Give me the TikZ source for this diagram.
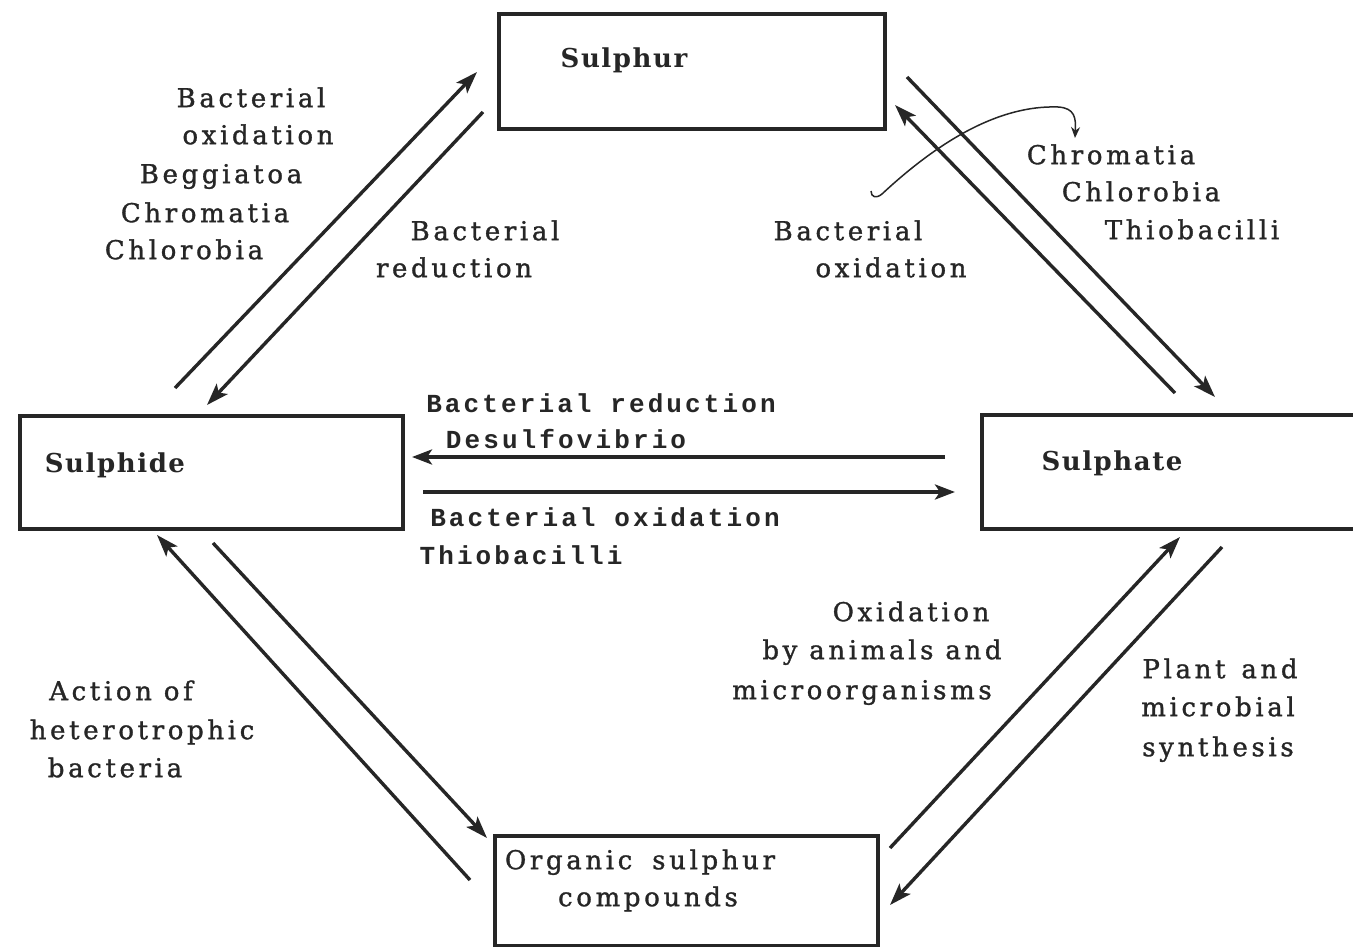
\documentclass[tikz,border=0pt]{standalone}
\usepackage{fontspec}
\usetikzlibrary{arrows.meta}
\newfontfamily\lblfont[LetterSpace=14,FakeBold=1.2]{DejaVu Serif}
\newfontfamily\ttlfont[LetterSpace=6]{DejaVu Serif Bold}
\newfontfamily\midfont[LetterSpace=12]{Liberation Mono Bold}
\definecolor{ink}{HTML}{262626}
\tikzset{
  box/.style={draw=ink, line width=3.6pt, rectangle, anchor=north west, inner sep=0pt},
  ttl/.style={text=ink, font=\ttlfont\fontsize{26}{30}\selectfont, anchor=mid, inner sep=0pt},
  lbl/.style={text=ink, font=\lblfont\fontsize{26}{30}\selectfont, anchor=mid, inner sep=0pt},
  mid/.style={text=ink, font=\midfont\fontsize{26}{30}\selectfont, anchor=mid, inner sep=0pt},
  arr/.style={draw=ink, line width=3.4pt, -{Stealth[length=22pt,width=15pt,inset=5pt]}},
  harr/.style={draw=ink, line width=4.5pt, -{Stealth[length=20pt,width=15pt,inset=5pt]}},
  thin/.style={draw=ink, line width=1.5pt, -{Stealth[length=11pt,width=9pt]}}
}
\begin{document}
\begin{tikzpicture}[x=1pt,y=-1pt]
\useasboundingbox (0,0) rectangle (1353,947);
\clip (0,0) rectangle (1353,947);
\fill[white] (0,0) rectangle (1353,947);

% boxes
\node[box, minimum width=386pt, minimum height=115pt] (sulphur) at (497,12) {};
\node[box, minimum width=383pt, minimum height=113pt] (sulphide) at (18,414) {};
\node[box, minimum width=400pt, minimum height=114pt] (sulphate) at (980,413) {};
\node[box, minimum width=383pt, minimum height=110pt] (organic) at (493,834) {};

% box titles
\node[ttl] (tsulphur) at (624,65) {Sulphur};
\node[ttl] (tsulphide) at (115,470) {Sulphide};
\node[ttl] (tsulphate) at (1112,468) {Sulphate};
\node[lbl] (torg1) at (640,867) {Organic\hspace{8pt} sulphur};
\node[lbl] (torg2) at (648,904) {compounds};

% arrow end points
\coordinate (a1s) at (175,388);  \coordinate (a1e) at (477,72);
\coordinate (a2s) at (483,112);  \coordinate (a2e) at (207,405);
\coordinate (a3s) at (907,77);   \coordinate (a3e) at (1215,397);
\coordinate (a4s) at (1175,393); \coordinate (a4e) at (895,105);
\coordinate (a5s) at (945,457);  \coordinate (a5e) at (412,457);
\coordinate (a6s) at (423,492);  \coordinate (a6e) at (955,492);
\coordinate (a7s) at (470,880);  \coordinate (a7e) at (157,535);
\coordinate (a8s) at (213,543);  \coordinate (a8e) at (487,838);
\coordinate (a9s) at (890,848);  \coordinate (a9e) at (1180,537);
\coordinate (a10s) at (1222,547); \coordinate (a10e) at (890,905);

\draw[arr] (a1s) -- (a1e);
\draw[arr] (a2s) -- (a2e);
\draw[arr] (a3s) -- (a3e);
\draw[arr] (a4s) -- (a4e);
\draw[harr] (a5s) -- (a5e);
\draw[harr] (a6s) -- (a6e);
\draw[arr] (a7s) -- (a7e);
\draw[arr] (a8s) -- (a8e);
\draw[arr] (a9s) -- (a9e);
\draw[arr] (a10s) -- (a10e);

% curved pointer
\coordinate (cs) at (871,191);
\coordinate (ce) at (1075,138);
\draw[thin] (cs) .. controls (871,197) and (876,199) .. (882,194)
  .. controls (940,140) and (1000,105) .. (1058,107)
  .. controls (1075,108) and (1076,118) .. (ce);

% labels upper left
\node[lbl] (l1a) at (251,105) {Bacterial};
\node[lbl] (l1b) at (258,142) {oxidation};
\node[lbl] (l1c) at (221,181) {Beggiatoa};
\node[lbl] (l1d) at (205,220) {Chromatia};
\node[lbl] (l1e) at (184,257) {Chlorobia};

\node[lbl] (l2a) at (485,238) {Bacterial};
\node[lbl] (l2b) at (454,275) {reduction};

\node[lbl] (l3a) at (848,238) {Bacterial};
\node[lbl] (l3b) at (891,275) {oxidation};

\node[lbl] (l4a) at (1111,162) {Chromatia};
\node[lbl] (l4b) at (1141,199) {Chlorobia};
\node[lbl] (l4c) at (1192,237) {Thiobacilli};

% middle labels
\node[mid] (m1) at (601,410) {Bacterial reduction};
\node[mid] (m2) at (566,446) {Desulfovibrio};
\node[mid] (m3) at (605,524) {Bacterial oxidation};
\node[mid] (m4) at (521,562) {Thiobacilli};

% lower labels
\node[lbl] (l5a) at (911,619) {Oxidation};
\node[lbl] (l5b) at (882,657) {by animals and};
\node[lbl] (l5c) at (862,697) {microorganisms};

\node[lbl] (l6a) at (1220,676) {Plant\hspace{4pt} and};
\node[lbl] (l6b) at (1218,714) {microbial};
\node[lbl] (l6c) at (1218,754) {synthesis};

\node[lbl] (l7a) at (121,698) {Action of};
\node[lbl] (l7b) at (142,737) {heterotrophic};
\node[lbl] (l7c) at (115,775) {bacteria};
\end{tikzpicture}
\end{document}
